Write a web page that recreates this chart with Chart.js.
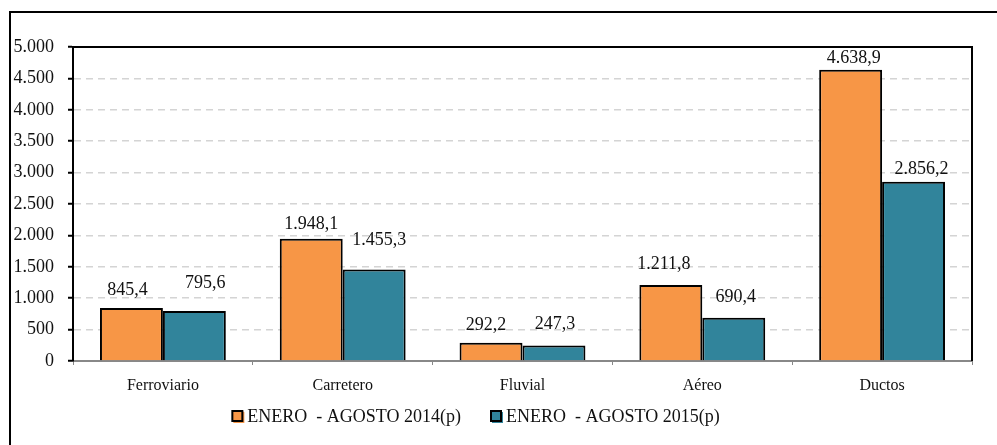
<!DOCTYPE html>
<html>
<head>
<meta charset="utf-8">
<script src="https://cdn.jsdelivr.net/npm/chart.js@4/dist/chart.umd.min.js"></script>
<style>
  html, body { margin: 0; padding: 0; background: #fff; }
</style>
</head>
<body>
<canvas id="chart" width="997" height="445"></canvas>
<script>
const categories = ['Ferroviario', 'Carretero', 'Fluvial', 'Aéreo', 'Ductos'];
const values2014 = [845.4, 1948.1, 292.2, 1211.8, 4638.9];
const values2015 = [795.6, 1455.3, 247.3, 690.4, 2856.2];
const seriesNames = ['ENERO  - AGOSTO 2014(p)', 'ENERO  - AGOSTO 2015(p)'];
const yTicks = [0, 500, 1000, 1500, 2000, 2500, 3000, 3500, 4000, 4500, 5000];

// the value labels were moved by hand in the original, so nudge them (px)
const labelShift2014 = [[-4, 18], [0, 14], [-5, 17], [-7, 21], [3, 11]];
const labelShift2015 = [[11, 28], [5, 29], [1, 21], [2, 20], [8, 12]];

const FONT = "'Liberation Serif', 'DejaVu Serif', serif";

// 1948.1 -> "1.948,1"
function fmt(v, dec) {
  const parts = v.toFixed(dec).split('.');
  parts[0] = parts[0].replace(/\B(?=(\d{3})+(?!\d))/g, '.');
  return parts.join(',');
}

const valueLabels = {
  id: 'valueLabels',
  afterDatasetsDraw(chart) {
    const ctx = chart.ctx;
    ctx.save();
    ctx.font = '18px ' + FONT;
    ctx.fillStyle = '#111';
    ctx.textAlign = 'center';
    ctx.textBaseline = 'middle';
    chart.data.datasets.forEach((ds, i) => {
      chart.getDatasetMeta(i).data.forEach((bar, j) => {
        const [dx, dy] = ds.labelShift[j];
        ctx.fillText(fmt(ds.data[j], 1), bar.x + dx, bar.y - dy);
      });
    });
    ctx.restore();
  }
};

const frame = {
  id: 'frame',
  afterDraw(chart) {
    const ctx = chart.ctx;
    const a = chart.chartArea;
    ctx.save();
    ctx.strokeStyle = '#000';
    ctx.lineWidth = 2;
    // plot area top + right
    ctx.beginPath();
    ctx.moveTo(a.left, a.top);
    ctx.lineTo(a.right, a.top);
    ctx.lineTo(a.right, a.bottom);
    ctx.stroke();
    // outer box (cut off at right and bottom)
    ctx.beginPath();
    ctx.moveTo(10, chart.height);
    ctx.lineTo(10, 12);
    ctx.lineTo(chart.width, 12);
    ctx.stroke();

    // legend
    ctx.font = '18px ' + FONT;
    ctx.textBaseline = 'middle';
    ctx.textAlign = 'left';
    const box = 11, gapText = 4, gapItem = 30, y = 417, cx = 476;
    const widths = chart.data.datasets.map(ds => box + gapText + ctx.measureText(ds.label).width);
    let x = cx - (widths.reduce((s, w) => s + w, 0) + gapItem) / 2;
    chart.data.datasets.forEach((ds, i) => {
      ctx.fillStyle = ds.backgroundColor;
      ctx.fillRect(x + 1, y - 5, box, box);
      ctx.fillRect(x, y - 6, box, box);
      ctx.lineWidth = 2;
      ctx.strokeStyle = '#000';
      ctx.strokeRect(x, y - 6, box - 1, box - 1);
      ctx.fillStyle = '#111';
      ctx.fillText(ds.label, x + box + gapText, y);
      x += widths[i] + gapItem;
    });
    ctx.restore();
  }
};

new Chart(document.getElementById('chart'), {
  type: 'bar',
  data: {
    labels: categories,
    datasets: [
      {
        label: seriesNames[0],
        data: values2014,
        labelShift: labelShift2014,
        backgroundColor: '#F79646',
        borderColor: '#000',
        borderWidth: 2
      },
      {
        label: seriesNames[1],
        data: values2015,
        labelShift: labelShift2015,
        backgroundColor: '#31849B',
        borderColor: '#000',
        borderWidth: 2
      }
    ]
  },
  options: {
    responsive: false,
    animation: false,
    devicePixelRatio: 1,
    layout: { padding: { left: 13, top: 47, right: 25, bottom: 44 } },
    datasets: {
      bar: { categoryPercentage: 0.7, barPercentage: 1.0 }
    },
    plugins: {
      legend: { display: false },
      tooltip: { enabled: false }
    },
    scales: {
      x: {
        grid: {
          drawOnChartArea: false,
          drawTicks: true,
          tickLength: 4,
          color: '#888'
        },
        border: { color: '#888', width: 2 },
        ticks: {
          font: { family: FONT, size: 16 },
          color: '#111',
          padding: 11
        },
        afterFit(s) { s.height = 40; }
      },
      y: {
        min: 0,
        max: 5000,
        afterBuildTicks(s) { s.ticks = yTicks.map(v => ({ value: v })); },
        grid: {
          color: '#d4d4d4',
          lineWidth: 1.5,
          tickColor: '#000',
          tickLength: 5,
          tickWidth: 2,
          tickBorderDash: []
        },
        border: { color: '#000', width: 2, dash: [7, 5] },
        ticks: {
          font: { family: FONT, size: 18 },
          color: '#111',
          padding: 14,
          callback: v => fmt(v, 0)
        },
        afterFit(s) { s.width = 60; }
      }
    }
  },
  plugins: [valueLabels, frame]
});
</script>
</body>
</html>
